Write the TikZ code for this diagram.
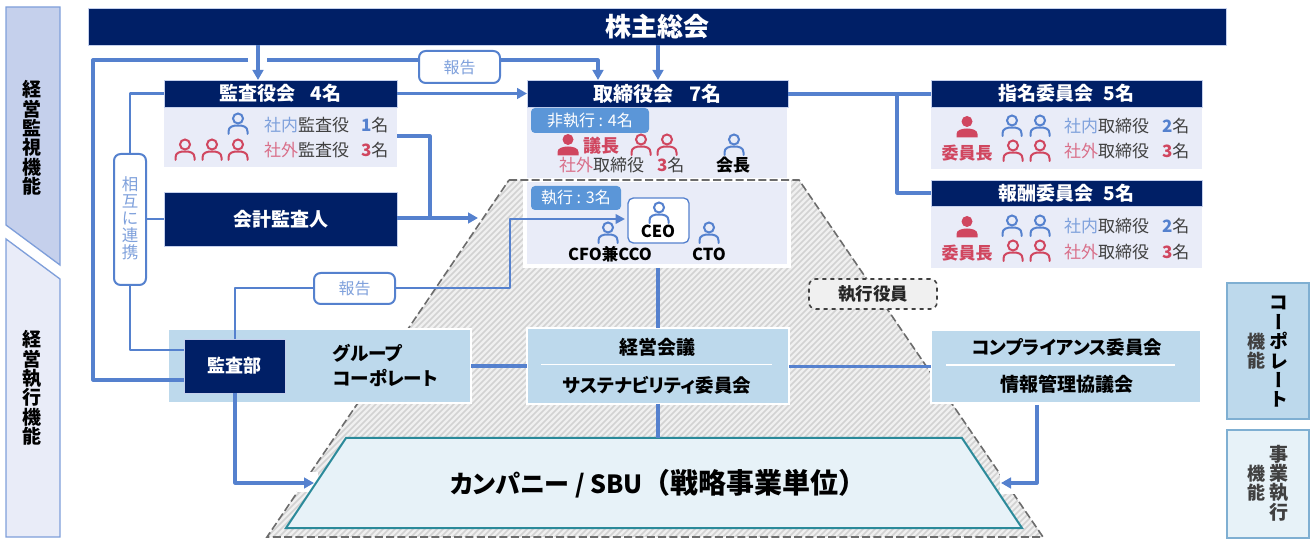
\documentclass[tikz,border=0pt]{standalone}
\usepackage{fontspec}
\setmainfont[RawFeature=+palt]{Noto Sans CJK JP}
\newfontfamily\vertfont[RawFeature=+vert]{Noto Sans CJK JP}
\newfontfamily\fullfont{Noto Sans CJK JP}
\usetikzlibrary{arrows.meta}
\definecolor{navy}{HTML}{001F66}
\definecolor{wire}{HTML}{5581CE}
\definecolor{pale}{HTML}{E9ECF8}
\definecolor{band}{HTML}{C5D0EC}
\definecolor{bandline}{HTML}{7F9FDA}
\definecolor{sky}{HTML}{BDD9EC}
\definecolor{skyline}{HTML}{7FAFD2}
\definecolor{ice}{HTML}{E7F2F8}
\definecolor{teal}{HTML}{2B8A9A}
\definecolor{tagblue}{HTML}{5B96D8}
\definecolor{lblue}{HTML}{7FA1DC}
\definecolor{red1}{HTML}{D0465F}
\definecolor{lred}{HTML}{D9708A}
\definecolor{ink}{HTML}{404040}
\definecolor{hatchline}{HTML}{D2D2D2}
\newcommand\pxf[1]{\lineskiplimit=-20pt\fontsize{\fpeval{#1*0.75}}{\fpeval{#1*0.78}}\selectfont}
\newcommand\pxv[2]{\lineskiplimit=-20pt\fontsize{\fpeval{#1*0.75}}{\fpeval{#2*0.75}}\selectfont}
% \bx{style}{name}{x1}{y1}{x2}{y2}{text}
\newcommand\bx[7]{\node[#1,minimum width=\fpeval{(#5-(#3))*0.75}pt,minimum height=\fpeval{(#6-(#4))*0.75}pt] (#2) at (\fpeval{(#3+#5)/2},\fpeval{(#4+#6)/2}) {#7};}
\newcommand\personO[3]{\begin{scope}[shift={(#1,#2)},draw=#3,line width=1.5pt,line cap=round]
\draw (0,-5.5) circle[radius=5];
\draw (-9.5,10) -- (-9.5,7.5) .. controls (-9.5,2.5) and (-5,1.5) .. (0,1.5) .. controls (5,1.5) and (9.5,2.5) .. (9.5,7.5) -- (9.5,10);
\end{scope}}
\newcommand\personS[3]{\begin{scope}[shift={(#1,#2)},fill=#3]
\fill (0,-5.5) circle[radius=5.5];
\fill (-10.5,10.5) -- (-10.5,7) .. controls (-10.5,3) and (-5,1.5) .. (0,1.5) .. controls (5,1.5) and (10.5,3) .. (10.5,7) -- (10.5,10.5) -- cycle;
\end{scope}}
\tikzset{
 x=0.75pt,y=-0.75pt,
 box/.style={inner sep=0pt,outer sep=0pt},
 hdr/.style={box,fill=navy,draw=band,line width=0.4pt,text=white,font=\pxf{19}\bfseries},
 body/.style={box,fill=pale},
 skybox/.style={box,fill=sky,draw=white,line width=1.5pt,font=\pxf{18}\bfseries},
 wireline/.style={draw=wire,line width=2.4pt,line join=round},
 thinwire/.style={draw=wire,line width=2pt,line join=round},
 arrowwire/.style={wireline,-{Triangle[length=7.5pt,width=8pt]}},
 tag/.style={box,fill=tagblue,rounded corners=3pt,text=white,font=\pxf{16}},
 report/.style={box,fill=white,draw=wire,line width=1.5pt,rounded corners=5pt,text=lblue,font=\pxf{16}},
 txt/.style={inner sep=0pt,outer sep=0pt,font=\pxf{17},text=ink},
 bold/.style={inner sep=0pt,outer sep=0pt,font=\pxf{17}\bfseries,text=black},
 redbold/.style={inner sep=0pt,outer sep=0pt,font=\pxf{17}\bfseries,text=red1},
 vstack/.style={inner sep=0pt,outer sep=0pt,align=center},
}
\begin{document}
\begin{tikzpicture}
\useasboundingbox (0,0) rectangle (1314,541);
% side bands
\filldraw[fill=band,draw=bandline,line width=1pt] (6,7) -- (60,7) -- (60,265) -- (6,225) -- cycle;
\filldraw[fill=pale,draw=bandline,line width=1pt] (6,239) -- (60,279) -- (60,537) -- (6,537) -- cycle;
\node[vstack,font=\pxv{19}{19.3}\bfseries,text=black] (lb1) at (32,138) {経\\営\\監\\視\\機\\能};
\node[vstack,font=\pxv{19}{19.3}\bfseries,text=black] (lb2) at (32,388) {経\\営\\執\\行\\機\\能};
% right legend
\bx{box,fill=sky,draw=skyline,line width=1pt}{leg1}{1227}{283}{1309}{419}{}
\bx{box,fill=ice,draw=skyline,line width=1pt}{leg2}{1227}{430}{1309}{538}{}
\node[vstack,font=\pxv{19}{19.4}\bfseries\vertfont,text=black] (lt1) at (1279,352) {コ\\ー\\ポ\\レ\\ー\\ト};
\node[vstack,font=\pxv{18}{19}\bfseries,text=ink] (lt2) at (1256,351) {機\\能};
\node[vstack,font=\pxv{19}{19.4}\bfseries,text=ink] (lt3) at (1279,483) {事\\業\\執\\行};
\node[vstack,font=\pxv{18}{19}\bfseries,text=ink] (lt4) at (1256,483) {機\\能};
% board upper body
\bx{body}{boardbody}{527}{107}{787}{182}{}
% pyramid hatch
\begin{scope}
\clip (509,180) -- (799,180) -- (1043,537) -- (267,537) -- cycle;
\fill[white!94!black] (260,175) rectangle (1050,540);
\foreach \i in {0,6,...,1350} {\draw[hatchline,line width=1.3pt] (\i,540) -- (\i+400,140);}
\end{scope}
% exec box
\bx{body,draw=white,line width=3pt}{execbody}{525}{180}{789}{266}{}
\draw[dashed,draw=gray!85!black,line width=1.2pt,dash pattern=on 6pt off 2.5pt] (509,180) -- (799,180) -- (1043,537) -- (267,537) -- cycle;
% white patches around arrowheads
\fill[white] (297,472) rectangle (318,492);
\fill[white] (1000,472) rectangle (1040,494);
% top
\bx{hdr,font=\pxf{26}\bfseries}{soukai}{88}{8}{1226}{45}{株主総会}
% audit
\bx{hdr}{kansa}{164}{80}{397}{107}{監査役会\hspace{0.8em}4名}
\bx{body}{kansabody}{164}{108}{397}{167}{}
\bx{hdr}{kaikei}{164}{192}{397}{246}{会計監査人}
% board
\bx{hdr,font=\pxf{20}\bfseries}{board}{527}{80}{788}{107}{取締役会\hspace{0.8em}7名}
% committees
\bx{hdr}{shimei}{931}{80}{1202}{107}{指名委員会\hspace{0.5em}5名}
\bx{body}{shimeibody}{931}{108}{1202}{169}{}
\bx{hdr}{houshu}{931}{180}{1202}{206}{報酬委員会\hspace{0.5em}5名}
\bx{body}{houshubody}{931}{207}{1202}{268}{}
% mid row
\bx{skybox}{group}{168}{329}{471}{403}{}
\bx{skybox}{keiei}{527}{328}{789}{404}{}
\bx{skybox}{comp}{931}{330}{1201}{403}{}
% company
\filldraw[fill=ice,draw=teal,line width=1.5pt] (346,438) -- (962,438) -- (1022,528) -- (286,528) -- cycle;
\node[inner sep=0pt,outer sep=0pt,font=\pxf{25}\bfseries,text=black,anchor=west] (company) at (450,484) {カンパニー / SBU{\fullfont\bfseries\pxf{28}（戦略事業単位）}};
\coordinate (ctop) at (658,438);
\coordinate (cleft) at (314,483);
\coordinate (cright) at (1001,483);
% audit dept
\bx{hdr,font=\pxf{18}\bfseries}{kansabu}{184}{339}{285}{393}{監査部}
% reports and mutual
\bx{report}{rep1}{419}{51}{500}{83}{報告}
\bx{report}{rep2}{314}{273}{395}{304}{報告}
\bx{box,fill=white,draw=wire,line width=1.5pt,rounded corners=5pt}{mutual}{114}{154}{146}{285}{}
\node[vstack,font=\pxv{16.5}{17},text=lblue] (mutualt) at (130,218) {相\\互\\に\\連\\携};
% connectors
\coordinate (a1) at (258,80);
\coordinate (a2) at (658,80);
\coordinate (a3) at (598,80);
\coordinate (corner1) at (93,60);
\coordinate (gapl) at (248,60);
\coordinate (gapr) at (267,60);
\coordinate (k1) at (397,136);
\coordinate (k2) at (430,136);
\coordinate (k3) at (430,218);
\coordinate (k4) at (478,218);
\coordinate (b1) at (897,94);
\coordinate (r1) at (510,288);
\coordinate (r2) at (510,219);
\coordinate (r3) at (625,219);
\coordinate (r4) at (235,288);
\coordinate (d1) at (235,483);
\coordinate (c1) at (1037,405);
\coordinate (c2) at (1037,483);
\draw[arrowwire] (a1 |- soukai.south) -- (a1);
\draw[arrowwire] (a2 |- soukai.south) -- (a2);
\draw[arrowwire] (rep1.east |- corner1) -- (a3 |- corner1) -- (a3);
\draw[wireline] (rep1.west |- corner1) -- (gapr);
\draw[wireline] (gapl) -- (corner1) -- (corner1 |- 0,380) -- (kansabu.west |- 0,380);
\draw[arrowwire] (kansa.east) -- (board.west);
\draw[wireline] (k1) -- (k2) -- (k3);
\draw[arrowwire] (kaikei.east |- k4) -- (k4);
\draw[wireline] (board.east |- b1) -- (shimei.west |- b1);
\draw[wireline] (b1) -- (b1 |- houshu.west) -- (houshu.west);
\draw[thinwire] (kansa.west) -- (mutual.north |- kansa.west) -- (mutual.north);
\draw[thinwire] (mutual.east |- kaikei.west) -- (kaikei.west);
\draw[thinwire] (mutual.south) -- (mutual.south |- 0,350) -- (kansabu.west |- 0,350);
\draw[thinwire] (kansabu.north -| r4) -- (r4) -- (rep2.west |- r4);
\draw[thinwire,-{Triangle[length=7pt,width=7pt]}] (rep2.east |- r1) -- (r1) -- (r2) -- (r3);
\draw[arrowwire] (kansabu.south -| d1) -- (d1) -- (cleft);
\draw[arrowwire] (c1) -- (c2) -- (cright);
\draw[wireline] (group.east) -- (keiei.west);
\draw[wireline] (keiei.east |- comp.west) -- (comp.west);
\draw[wireline] (658,268) -- (keiei.north -| 658,0);
\draw[wireline] (keiei.south -| 658,0) -- (ctop);
% mid row text
\node[inner sep=0pt,outer sep=0pt,align=left,anchor=west,font=\pxv{18.5}{25}\bfseries,text=black] (groupt) at (333,365) {グループ\\コーポレート};
\node[bold,font=\pxf{19}\bfseries] (keiei1) at (657,347) {経営会議};
\node[bold,font=\pxf{18.5}\bfseries] (keiei2) at (657,385) {サステナビリティ委員会};
\draw[white,line width=1pt] (541,364.5) -- (772,364.5);
\node[bold,font=\pxf{18.5}\bfseries] (comp1) at (1067,347) {コンプライアンス委員会};
\node[bold,font=\pxf{19}\bfseries] (comp2) at (1067,384) {情報管理協議会};
\draw[white,line width=1pt] (946,365) -- (1175,365);
% executive officers tag
\bx{box,fill=white!94!black,draw=black!75,line width=1.2pt,dashed,rounded corners=5pt,font=\pxf{17.5}\bfseries,text=black!85}{officer}{809}{279}{937}{309}{執行役員}
% audit details
\personO{238}{124}{wire}
\personO{185}{150}{red1}\personO{212}{150}{red1}\personO{238}{150}{red1}
\node[txt,anchor=west] (k1t) at (264,125) {\textcolor{lblue}{社内}監査役};
\node[txt,anchor=west] (k2t) at (264,150) {\textcolor{lred}{社外}監査役};
\node[txt,anchor=west] (k1n) at (361,125) {\textbf{\textcolor{wire}{1}}名};
\node[txt,anchor=west] (k2n) at (361,150) {\textbf{\textcolor{red1}{3}}名};
% board details
\bx{tag}{tag1}{531}{108}{649}{133}{非執行 : 4名}
\personS{568}{145}{red1}
\node[redbold,font=\pxf{18}\bfseries] (chair) at (601,146) {議長};
\personO{641}{145}{red1}\personO{667}{145}{red1}\personO{734}{145}{wire}
\node[txt,anchor=west] (b1t) at (559,165) {\textcolor{lred}{社外}取締役};
\node[txt,anchor=west] (b1n) at (657,165) {\textbf{\textcolor{red1}{3}}名};
\node[bold] (kaicho) at (733,165) {会長};
\bx{tag}{tag2}{531}{186}{621}{210}{執行 : 3名}
\bx{box,fill=white,draw=wire,line width=1pt,rounded corners=4pt}{ceobox}{628}{198}{689}{243}{}
\personO{659}{213}{wire}
\node[bold,font=\pxf{16.5}\bfseries] (ceo) at (658,231) {CEO};
\personO{608}{233}{wire}\personO{709}{233}{wire}
\node[bold,font=\pxf{16.5}\bfseries] (cfo) at (610,254) {CFO兼CCO};
\node[bold,font=\pxf{16.5}\bfseries] (cto) at (709,254) {CTO};
% committee details
\personS{967}{127}{red1}\personO{1012}{126}{wire}\personO{1040}{126}{wire}
\node[redbold] (s0) at (967,153) {委員長};
\personO{1013}{151}{red1}\personO{1040}{151}{red1}
\node[txt,anchor=west] (s1) at (1064,126) {\textcolor{lblue}{社内}取締役};
\node[txt,anchor=west] (s2) at (1064,151) {\textcolor{lred}{社外}取締役};
\node[txt,anchor=west] (s3) at (1162,126) {\textbf{\textcolor{wire}{2}}名};
\node[txt,anchor=west] (s4) at (1162,151) {\textbf{\textcolor{red1}{3}}名};
\personS{967}{227}{red1}\personO{1012}{226}{wire}\personO{1040}{226}{wire}
\node[redbold] (h0) at (967,253) {委員長};
\personO{1013}{251}{red1}\personO{1040}{251}{red1}
\node[txt,anchor=west] (h1) at (1064,226) {\textcolor{lblue}{社内}取締役};
\node[txt,anchor=west] (h2) at (1064,252) {\textcolor{lred}{社外}取締役};
\node[txt,anchor=west] (h3) at (1162,226) {\textbf{\textcolor{wire}{2}}名};
\node[txt,anchor=west] (h4) at (1162,252) {\textbf{\textcolor{red1}{3}}名};
\end{tikzpicture}
\end{document}
